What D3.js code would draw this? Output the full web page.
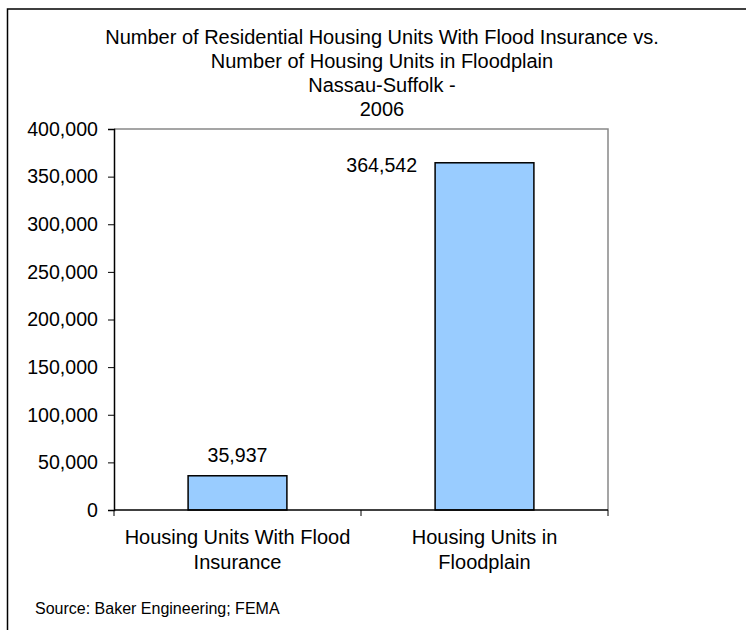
<!DOCTYPE html>
<html><head><meta charset="utf-8">
<script src="https://cdn.jsdelivr.net/npm/d3@7"></script>
<style>body{margin:0;background:#fff}svg{display:block}text{font-family:"Liberation Sans",Arial,sans-serif;fill:#000}</style>
</head><body><svg id="c" width="746" height="630"></svg>
<script>
const categories = [["Housing Units With Flood","Insurance"],["Housing Units in","Floodplain"]];
const values = [35937, 364542];
const yTicks = [0,50000,100000,150000,200000,250000,300000,350000,400000];
const titleLines = ["Number of Residential Housing Units With Flood Insurance vs.","Number of Housing Units in Floodplain","Nassau-Suffolk -","2006"];
const source = "Source: Baker Engineering; FEMA";

const svg = d3.select("#c");
const W=746,H=630;
const m = {left:114, right:608, top:129, bottom:510};
svg.append("rect").attr("x",7.5).attr("y",9).attr("width",W+10).attr("height",H+10)
  .attr("fill","#fff").attr("stroke","#000").attr("stroke-width",1.5);

const x = d3.scaleBand().domain(d3.range(values.length)).range([m.left,m.right]).paddingInner(0).paddingOuter(0);
const y = d3.scaleLinear().domain([0,400000]).range([m.bottom,m.top]);
const fmt = d3.format(",");
const FS = 19.6;

// plot area border (top & right, grey)
svg.append("path").attr("d",`M${m.left},${m.top}H${m.right}V${m.bottom}`).attr("fill","none").attr("stroke","#888").attr("stroke-width",1.5);

// title
const tg = svg.append("g");
titleLines.forEach((t,i)=>{
  tg.append("text").attr("x",382).attr("y",44+i*24).attr("text-anchor","middle").attr("font-size",20).text(t);
});

// bars
const bw = x.bandwidth()*0.4;
svg.selectAll("rect.bar").data(values).join("rect").attr("class","bar")
  .attr("x",(d,i)=>x(i)+x.bandwidth()/2-bw/2).attr("width",bw)
  .attr("y",d=>y(d)).attr("height",d=>y(0)-y(d))
  .attr("fill","#99CCFF").attr("stroke","#000").attr("stroke-width",1.5);

// value labels
svg.append("text").attr("x",x(0)+x.bandwidth()/2).attr("y",y(values[0])-14).attr("text-anchor","middle").attr("font-size",FS).text(fmt(values[0]));
svg.append("text").attr("x",x(1)+x.bandwidth()/2-bw/2-18).attr("y",y(values[1])+9).attr("text-anchor","end").attr("font-size",FS).text(fmt(values[1]));

// y axis
const ya = svg.append("g").attr("transform",`translate(${m.left},0)`)
  .call(d3.axisLeft(y).tickValues(yTicks).tickFormat(fmt).tickSize(6).tickPadding(10));
ya.select(".domain").attr("stroke","#000").attr("stroke-width",1.5);
ya.selectAll(".tick line").attr("stroke","#000");
ya.selectAll(".tick text").attr("font-size",FS).attr("font-family","Liberation Sans, Arial, sans-serif").attr("fill","#000");

// x axis
const xa = svg.append("g").attr("transform",`translate(0,${m.bottom})`);
xa.append("line").attr("x1",m.left).attr("x2",m.right).attr("stroke","#000").attr("stroke-width",1.5);
[0,1,2].forEach(i=>{
  const xx = i<values.length ? x(i) : m.right;
  xa.append("line").attr("x1",xx).attr("x2",xx).attr("y1",0).attr("y2",6).attr("stroke","#000");
});
categories.forEach((lines,i)=>{
  lines.forEach((l,j)=>{
    xa.append("text").attr("x",x(i)+x.bandwidth()/2).attr("y",34+j*25).attr("text-anchor","middle").attr("font-size",20).text(l);
  });
});

svg.append("text").attr("x",35).attr("y",614).attr("font-size",16).text(source);
</script></body></html>
